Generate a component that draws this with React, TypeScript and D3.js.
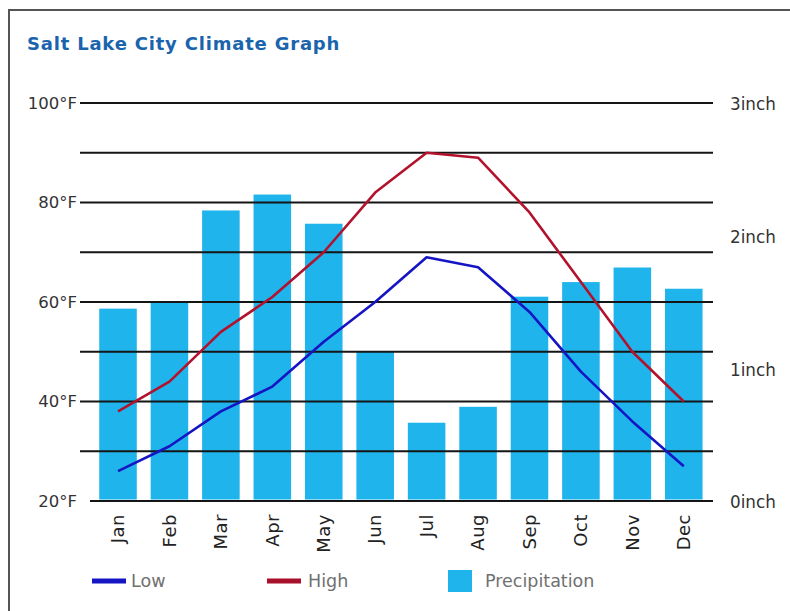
import React from "react";
import * as d3 from "d3";

const months = ["Jan", "Feb", "Mar", "Apr", "May", "Jun", "Jul", "Aug", "Sep", "Oct", "Nov", "Dec"];
const highF = [38, 44, 54, 61, 70, 82, 90, 89, 78, 64, 50, 40];
const lowF = [26, 31, 38, 43, 52, 60, 69, 67, 58, 46, 36, 27];
const precipIn = [1.45, 1.5, 2.19, 2.31, 2.09, 1.13, 0.59, 0.71, 1.54, 1.65, 1.76, 1.6];
const tempGrid = [30, 40, 50, 60, 70, 80, 90, 100];
const tempLabels = [20, 40, 60, 80, 100];
const precipLabels = [0, 1, 2, 3];

const W = 790;
const H = 611;
const FONT = "'DejaVu Sans', Verdana, sans-serif";

export default function App() {
  const x = d3.scaleBand<string>().domain(months).range([92.3, 709.5]).paddingInner(0.27).paddingOuter(0.135);
  const yT = d3.scaleLinear().domain([20, 100]).range([501, 103]);
  const yP = d3.scaleLinear().domain([0, 3]).range([501, 103]);
  const bw = x.bandwidth();
  const cx = (m: string) => (x(m) as number) + bw / 2;
  const line = d3
    .line<number>()
    .x((_, i) => cx(months[i]))
    .y((d) => yT(d));

  return (
    <svg width={W} height={H} style={{ position: "absolute", left: 0, top: 0, background: "#fff" }} fontFamily={FONT}>
      <rect x={9} y={10} width={900} height={800} fill="#fff" stroke="#555" strokeWidth={2} />
      <text x={27} y={50} fontSize={18} letterSpacing={0.8} fontWeight="bold" fill="#1a64ad">
        Salt Lake City Climate Graph
      </text>
      {precipIn.map((v, i) => (
        <rect key={months[i]} x={x(months[i])} y={yP(v)} width={bw} height={yP(0) - yP(v) - 1.5} fill="#1fb4ec" />
      ))}
      {tempGrid.map((t) => (
        <line key={t} x1={80} x2={713} y1={yT(t)} y2={yT(t)} stroke="#151515" strokeWidth={2} />
      ))}
      <line x1={90} x2={713} y1={yT(20)} y2={yT(20)} stroke="#151515" strokeWidth={2} />
      {tempLabels.map((t) => (
        <text key={t} x={77} y={yT(t)} dy="0.35em" textAnchor="end" fontSize={16.5} fill="#333">
          {t}°F
        </text>
      ))}
      {precipLabels.map((p) => (
        <text key={p} x={730} y={yP(p) + 1.5} dy="0.35em" fontSize={16.8} fill="#333">
          {p}inch
        </text>
      ))}
      {months.map((m) => (
        <text
          key={m}
          transform={`translate(${cx(m)},514) rotate(-90)`}
          dy="0.35em"
          textAnchor="end"
          fontSize={18}
          letterSpacing={0.5}
          fill="#222"
        >
          {m}
        </text>
      ))}
      <path d={line(lowF) ?? ""} fill="none" stroke="#1515c4" strokeWidth={2.6} strokeLinejoin="round" />
      <path d={line(highF) ?? ""} fill="none" stroke="#b3122c" strokeWidth={2.6} strokeLinejoin="round" />
      <line x1={92} x2={126} y1={581} y2={581} stroke="#1515c4" strokeWidth={5} />
      <text x={131} y={587} fontSize={17.5} fill="#707070">Low</text>
      <line x1={267} x2={301} y1={581} y2={581} stroke="#a8102a" strokeWidth={5} />
      <text x={308} y={587} fontSize={17.5} fill="#707070">High</text>
      <rect x={448} y={570} width={24} height={22} fill="#1fb4ec" />
      <text x={485} y={587} fontSize={17.5} fill="#707070">Precipitation</text>
    </svg>
  );
}
